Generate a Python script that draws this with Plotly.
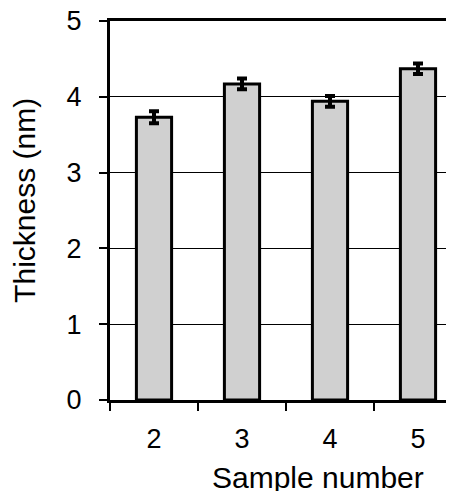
import plotly.graph_objects as go

samples = ["2", "3", "4", "5"]
thickness = [3.73, 4.17, 3.94, 4.37]
errors = [0.08, 0.07, 0.07, 0.07]
y_ticks = [0, 1, 2, 3, 4, 5]

FONT = "Liberation Sans, Arial, sans-serif"

fig = go.Figure(go.Bar(
    x=samples, y=thickness, width=0.4,
    marker=dict(color="#d0d0d0", line=dict(color="black", width=3)),
    error_y=dict(type="data", array=errors, color="black", thickness=4, width=5),
))

fig.update_layout(
    width=454, height=491,
    margin=dict(l=102, r=0, t=13, b=99),
    plot_bgcolor="white", paper_bgcolor="white",
    showlegend=False,
    font=dict(family=FONT, color="black"),
    annotations=[
        dict(text="Sample number", xref="paper", yref="paper", x=0.591, y=-0.205,
             xanchor="center", yanchor="middle", showarrow=False, font=dict(size=30)),
        dict(text="Thickness (nm)", xref="paper", yref="paper", x=-0.2415, y=0.528,
             xanchor="center", yanchor="middle", textangle=-90, showarrow=False,
             font=dict(size=30)),
    ],
)
fig.update_xaxes(
    type="category", range=[-0.5, 3.5], automargin=False,
    tickson="boundaries", ticks="outside", ticklen=8, tickwidth=1.5, tickcolor="black",
    showline=True, linecolor="black", linewidth=3, mirror=True,
    showgrid=False,
    tickfont=dict(size=27), ticklabelstandoff=13,
)
fig.update_yaxes(
    range=[0, 5], tickvals=y_ticks, automargin=False, ticklabeloverflow="allow",
    ticks="outside", ticklen=8, tickwidth=1.5, tickcolor="black",
    showline=True, linecolor="black", linewidth=3,
    showgrid=True, gridcolor="black", gridwidth=1.2, zeroline=False,
    tickfont=dict(size=27), ticklabelstandoff=12,
)

fig.write_html("out.html")
